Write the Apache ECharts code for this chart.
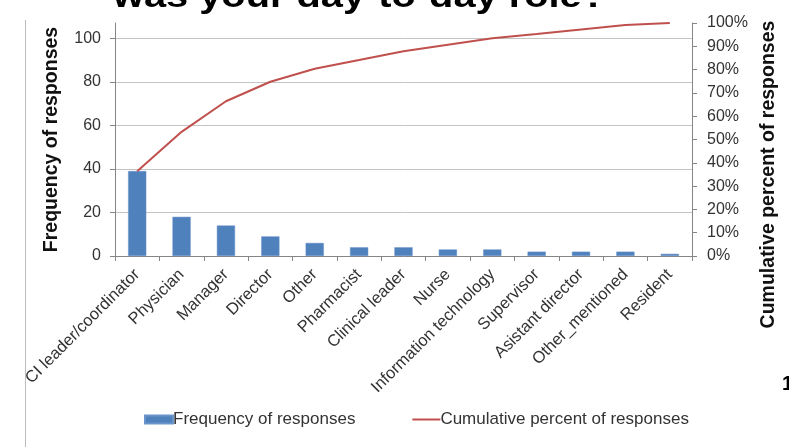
<!DOCTYPE html>
<html>
<head>
<meta charset="utf-8">
<script src="https://cdn.jsdelivr.net/npm/echarts@6/dist/echarts.min.js"></script>
<style>
  html, body { margin: 0; padding: 0; background: #fff; }
  #chart { width: 789px; height: 447px; }
</style>
</head>
<body>
<div id="chart"></div>
<script>
// Roles reported, sorted by frequency (Pareto order)
const roles = [
  'CI leader/coordinator', 'Physician', 'Manager', 'Director', 'Other',
  'Pharmacist', 'Clinical leader', 'Nurse', 'Information technology',
  'Supervisor', 'Asistant director', 'Other_mentioned', 'Resident'
];
const frequency = [39, 18, 14, 9, 6, 4, 4, 3, 3, 2, 2, 2, 1];
const cumulativePercent = [36.4, 53.3, 66.4, 74.8, 80.4, 84.1, 87.9, 90.7, 93.5, 95.3, 97.2, 99.1, 100];
const totalResponses = 107;
const freqTicks = [0, 20, 40, 60, 80, 100];

const FONT = '"Liberation Sans", Arial, sans-serif';
const axisGray = '#868686';
const labelColor = '#333';

const chart = echarts.init(document.getElementById('chart'), null, { renderer: 'canvas' });

chart.setOption({
  animation: false,
  backgroundColor: '#fff',
  textStyle: { fontFamily: FONT },
  grid: { left: 115, right: 97, top: 23, bottom: 191, containLabel: false },
  legend: {
    left: 144,
    top: 411,
    padding: 0,
    itemGap: 57,
    itemWidth: 28,
    itemHeight: 8,
    textStyle: { fontFamily: FONT, fontSize: 17, color: labelColor, padding: [0, 0, 0, -5] },
    data: [
      { name: 'Frequency of responses', icon: 'rect' },
      { name: 'Cumulative percent of responses', icon: 'path://M0,0 L28,0 L28,2 L0,2 Z' }
    ]
  },
  xAxis: {
    type: 'category',
    data: roles,
    boundaryGap: true,
    axisLine: { lineStyle: { color: axisGray, width: 1 } },
    axisTick: { show: true, alignWithLabel: false, length: 5, lineStyle: { color: axisGray } },
    axisLabel: {
      interval: 0,
      rotate: 45,
      margin: 16,
      fontFamily: FONT,
      fontSize: 16.5,
      color: labelColor
    }
  },
  yAxis: [
    {
      type: 'value',
      min: 0,
      max: totalResponses,
      interval: 20,
      name: 'Frequency of responses',
      nameLocation: 'middle',
      nameGap: 53,
      nameTextStyle: { fontFamily: FONT, fontSize: 19.5, fontWeight: 'bold', color: '#111' },
      axisLine: { show: true, lineStyle: { color: axisGray } },
      axisTick: { show: true, length: 5, lineStyle: { color: axisGray } },
      axisLabel: {
        showMaxLabel: false,
        margin: 14,
        fontFamily: FONT,
        fontSize: 16,
        color: labelColor,
        formatter: v => (freqTicks.indexOf(v) >= 0 ? String(v) : '')
      },
      splitLine: { show: true, showMinLine: false, showMaxLine: false, lineStyle: { color: '#c4c4c4', width: 1 } }
    },
    {
      type: 'value',
      min: 0,
      max: 100,
      interval: 10,
      position: 'right',
      name: 'Cumulative percent of responses',
      nameLocation: 'middle',
      nameGap: 65,
      nameTextStyle: { fontFamily: FONT, fontSize: 19.5, fontWeight: 'bold', color: '#111', padding: [0, 70, 0, 0] },
      axisLine: { show: true, lineStyle: { color: axisGray } },
      axisTick: { show: true, length: 5, lineStyle: { color: axisGray } },
      axisLabel: { margin: 15, fontFamily: FONT, fontSize: 16, color: labelColor, formatter: '{value}%' },
      splitLine: { show: false }
    }
  ],
  series: [
    {
      name: 'Frequency of responses',
      type: 'bar',
      yAxisIndex: 0,
      data: frequency,
      barWidth: '41%',
      itemStyle: { color: '#4F81BD', borderColor: '#6a95cc', borderWidth: 0.5 }
    },
    {
      name: 'Cumulative percent of responses',
      type: 'line',
      yAxisIndex: 1,
      data: cumulativePercent,
      showSymbol: false,
      symbol: 'none',
      lineStyle: { color: '#C0504D', width: 2 },
      itemStyle: { color: '#C0504D' }
    }
  ],
  graphic: [
    {
      type: 'text',
      x: 113,
      y: -19,
      scaleX: 1.17,
      style: {
        text: 'was your day-to-day role?',
        font: 'bold 34px "Liberation Sans", Arial, sans-serif',
        fill: '#000'
      }
    },
    {
      type: 'line',
      shape: { x1: 25.5, y1: 20, x2: 25.5, y2: 447 },
      style: { stroke: '#bdbdbd', lineWidth: 1 }
    },
    {
      type: 'text',
      x: 782,
      y: 374,
      style: {
        text: '1',
        font: 'bold 20px "Liberation Sans", Arial, sans-serif',
        fill: '#000'
      }
    }
  ]
});
</script>
</body>
</html>
